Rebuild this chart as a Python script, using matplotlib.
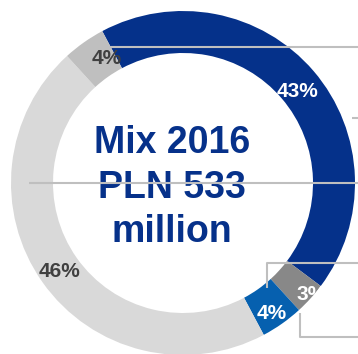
import numpy as np
import matplotlib.pyplot as plt

# revenue mix, clockwise from the top
shares = [43, 3, 4, 46, 4]
pct_labels = ['43%', '3%', '4%', '46%', '4%']
slice_colors = ['#05318A', '#888888', '#0660AF', '#D9D9D9', '#BFBFBF']
label_colors = ['white', 'white', 'white', '#404040', '#404040']
center_lines = ['Mix 2016', 'PLN 533', 'million']

W, H = 358, 354
cx, cy = 183, 183          # ring centre, pixels from top-left
r_out, r_in = 172, 130
font = 'Liberation Sans'

# small pixel nudges for the percentage labels (right, down)
nudges = [(0, 5), (17, 8), (2, 5), (0, -1), (11, -3)]


def py(y):
    return H - y


fig = plt.figure(figsize=(W / 100, H / 100), dpi=100)
ax = fig.add_axes([0, 0, 1, 1])

wedges, _ = ax.pie(shares, colors=slice_colors, radius=r_out, center=(cx, py(cy)),
                   startangle=118, counterclock=False,
                   wedgeprops=dict(width=r_out - r_in, linewidth=0))

r_mid = (r_out + r_in) / 2
for w, txt, col, (dx, dy) in zip(wedges, pct_labels, label_colors, nudges):
    ang = np.deg2rad((w.theta1 + w.theta2) / 2)
    x = cx + r_mid * np.cos(ang) + dx
    y = cy - r_mid * np.sin(ang) + dy
    ax.text(x, py(y + 7.5), txt, ha='center', va='baseline', fontsize=15,
            fontweight='bold', color=col, family=font, zorder=4)

# centre caption
for txt, base in zip(center_lines, [153, 198, 242]):
    ax.text(172, py(base), txt, ha='center', va='baseline', fontsize=27,
            fontweight='bold', color='#06318A', family=font, zorder=3)

# leader lines
leaders = [
    ([110, 358], [46.5, 46.5]),
    ([352, 358], [118, 118]),
    ([29, 358], [183, 183]),
    ([267, 267, 358], [288, 262.5, 262.5]),
    ([300, 300, 358], [313, 337, 337]),
]
for xs, ys in leaders:
    ax.plot(xs, [py(v) for v in ys], color='#BFBFBF', lw=1.5,
            solid_capstyle='butt', zorder=5)

ax.set_xlim(0, W)
ax.set_ylim(0, H)
ax.set_aspect('equal')
ax.axis('off')

fig.savefig('out.png', dpi=100)
